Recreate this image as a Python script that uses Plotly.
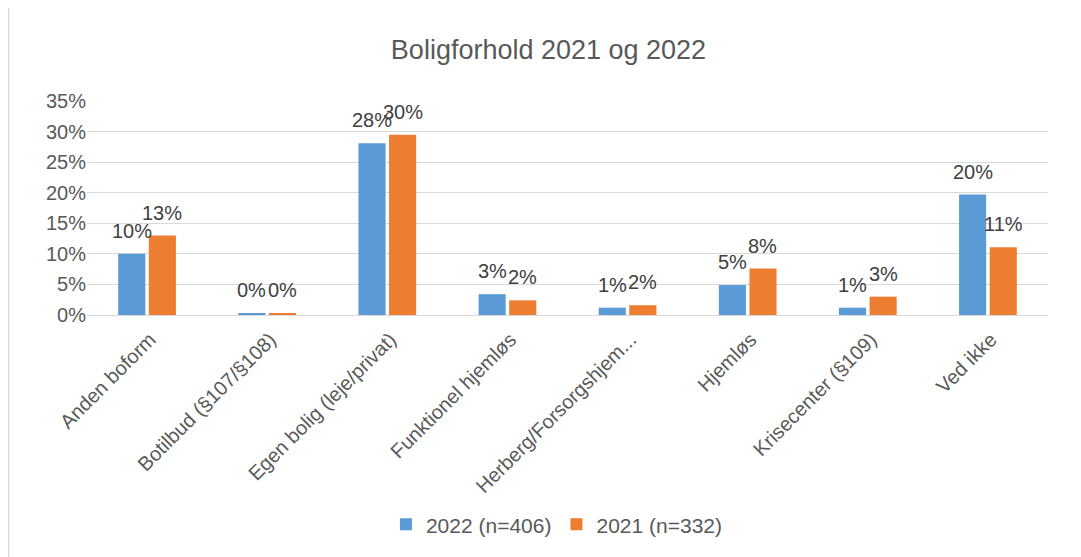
import plotly.graph_objects as go

categories = ["Anden boform", "Botilbud (§107/§108)", "Egen bolig (leje/privat)",
              "Funktionel hjemløs", "Herberg/Forsorgshjem...", "Hjemløs",
              "Krisecenter (§109)", "Ved ikke"]
values_2022 = [0.100, 0.0025, 0.281, 0.034, 0.012, 0.049, 0.012, 0.197]
values_2021 = [0.130, 0.0025, 0.295, 0.024, 0.016, 0.076, 0.030, 0.111]
series_names = ["2022 (n=406)", "2021 (n=332)"]
colors = ["#5B9BD5", "#ED7D31"]
title = "Boligforhold 2021 og 2022"

FONT = "Liberation Sans Narrow, Liberation Sans, Arial"
txt = "#404040"
axc = "#595959"

fig = go.Figure()
for name, vals, col in zip(series_names, [values_2022, values_2021], colors):
    fig.add_trace(go.Bar(
        x=categories, y=vals, name=name, marker_color=col,
        marker_line_width=0,
    ))

# data labels above each bar (offset to each bar's center within the group)
for vals, shift in zip([values_2022, values_2021], [-15.3, 15.3]):
    for cat, v in zip(categories, vals):
        fig.add_annotation(x=cat, y=v, xref="x", yref="y", text=f"{v:.0%}",
                           showarrow=False, xanchor="center", yanchor="bottom",
                           xshift=shift, yshift=10,
                           font=dict(size=20, color=txt, family=FONT))

fig.update_layout(
    width=1081, height=557,
    paper_bgcolor="white", plot_bgcolor="white",
    margin=dict(l=79, r=41, t=93, b=250),
    barmode="group", bargap=0.49, bargroupgap=0.115,
    font=dict(family=FONT, color=axc, size=18),
    title=dict(text=title, x=0.5, xanchor="center", y=0.925, yanchor="middle",
               font=dict(size=27, color=axc, family=FONT)),
    legend=dict(orientation="h", x=0.489, xanchor="center", y=-0.98, yanchor="middle",
                font=dict(size=21, color=axc, family=FONT), traceorder="normal",
                itemwidth=30),
    showlegend=True,
)
fig.update_yaxes(range=[0, 0.35], dtick=0.05, tickformat=".0%",
                 gridcolor="#D9D9D9", gridwidth=1, zeroline=True,
                 zerolinecolor="#D9D9D9", zerolinewidth=1, showline=False,
                 tickfont=dict(size=20, color=axc, family=FONT), ticks="",
                 automargin=False)
fig.update_xaxes(tickangle=-45, showline=False, ticks="", automargin=False,
                 ticklabelstandoff=8, ticklabelshift=3,
                 tickfont=dict(size=20, color=axc, family=FONT))

fig.add_shape(type="rect", xref="paper", yref="paper",
              x0=-0.0817, x1=1.05, y0=-1.3, y1=1.46,
              line=dict(color="#D9D9D9", width=1.5), fillcolor="rgba(0,0,0,0)",
              layer="below")

fig.write_html("out.html")
